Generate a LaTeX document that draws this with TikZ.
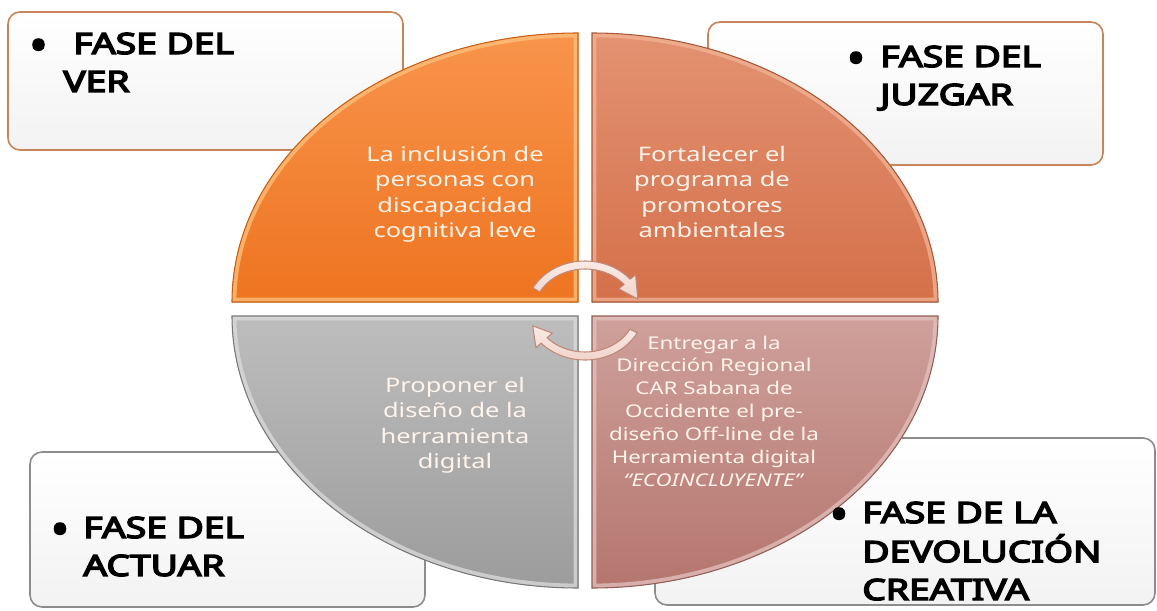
\documentclass[tikz,border=0pt]{standalone}
\usepackage{fontspec}
\setmainfont{Noto Sans}
\newfontfamily\hdrfont{Noto Sans}[FakeBold=4.5]
\usepackage{graphicx}
\definecolor{boxorange}{HTML}{C8845A}
\definecolor{boxgray}{HTML}{8C8C8C}
\definecolor{qtext}{HTML}{FFF4EC}
\definecolor{arrfill}{HTML}{F6DDD4}
\definecolor{arrline}{HTML}{C08878}
\definecolor{tlTop}{HTML}{F8944C}\definecolor{tlBot}{HTML}{EE7420}\definecolor{tlLight}{HTML}{FFC27E}\definecolor{tlDark}{HTML}{C85E10}
\definecolor{trTop}{HTML}{E39272}\definecolor{trBot}{HTML}{D4704A}\definecolor{trLight}{HTML}{F2B496}\definecolor{trDark}{HTML}{A85838}
\definecolor{blTop}{HTML}{BDBDBD}\definecolor{blBot}{HTML}{9C9C9C}\definecolor{blLight}{HTML}{DCDCDC}\definecolor{blDark}{HTML}{787878}
\definecolor{brTop}{HTML}{CFA09B}\definecolor{brBot}{HTML}{B4766E}\definecolor{brLight}{HTML}{E4C2BE}\definecolor{brDark}{HTML}{925E56}
\newcommand{\qpathTL}{(578,308) -- (232,308) arc[start angle=180,end angle=90,x radius=346,y radius=269] -- cycle}
\newcommand{\qpathTR}{(592,308) -- (592,577) arc[start angle=90,end angle=0,x radius=346,y radius=269] -- cycle}
\newcommand{\qpathBL}{(578,294) -- (578,22) arc[start angle=270,end angle=180,x radius=346,y radius=272] -- cycle}
\newcommand{\qpathBR}{(592,294) -- (938,294) arc[start angle=0,end angle=-90,x radius=346,y radius=272] -- cycle}
\newcommand{\drawquad}[5]{%
  \fill[top color=#2,bottom color=#3] #1;
  \begin{scope}\clip #1; \draw[#4, line width=5pt, opacity=.75] #1; \end{scope}
  \draw[#5, line width=0.6pt] #1;}
\newcommand{\hdrtext}[1]{\scalebox{1.27}[1]{\hdrfont\fontsize{16.7}{21.6}\selectfont\begin{tabular}[t]{@{}l@{}}#1\end{tabular}}}
\newcommand{\hdrbullet}{\scalebox{1.6}[1.5]{\hdrfont\fontsize{16.7}{21.6}\selectfont •}}
\newcommand{\quadtext}[3]{\scalebox{1.27}[1]{\fontsize{#1}{#2}\selectfont\begin{tabular}[t]{@{}c@{}}#3\end{tabular}}}
\begin{document}
\begin{tikzpicture}[x=0.02cm,y=0.02cm,
  phasebox/.style={rounded corners=0.24cm, line width=0.9pt, top color=white, bottom color=black!5},
  hdr/.style={anchor=base west, inner sep=0pt, text=black},
  bul/.style={anchor=center, inner sep=0pt, text=black},
  qlabel/.style={anchor=base, inner sep=0pt, text=qtext},
  arrowband/.style={top color=arrfill!60!white, bottom color=arrfill!90!arrline, draw=arrline, line width=0.6pt, line join=round}]
\fill[white] (0,0) rectangle (1157,610);
\useasboundingbox (0,0) rectangle (1157,610);
% phase boxes
\draw[phasebox, draw=boxorange] (8,460) rectangle (403,598);
\draw[phasebox, draw=boxorange] (708,445) rectangle (1103,588);
\draw[phasebox, draw=boxgray] (30,3) rectangle (425,158);
\draw[phasebox, draw=boxgray] (655,5) rectangle (1155,172);
% quadrants
\drawquad{\qpathTL}{tlTop}{tlBot}{tlLight}{tlDark}
\drawquad{\qpathTR}{trTop}{trBot}{trLight}{trDark}
\drawquad{\qpathBL}{blTop}{blBot}{blLight}{blDark}
\drawquad{\qpathBR}{brTop}{brBot}{brLight}{brDark}
% circular arrows
\begin{scope}[shift={(585,298)}]
\draw[arrowband] (152:59 and 51) arc[start angle=152,end angle=40,x radius=59,y radius=51]
  -- (40:66 and 58) -- (16:55 and 47) -- (40:44 and 36) -- (40:51 and 43)
  arc[start angle=40,end angle=152,x radius=51,y radius=43] -- cycle;
\end{scope}
\begin{scope}[shift={(585,301)}]
\draw[arrowband] (-28:59 and 51) arc[start angle=-28,end angle=-138,x radius=59,y radius=51]
  -- (-138:66 and 58) -- (-159:56 and 47) -- (-138:44 and 36) -- (-138:51 and 43)
  arc[start angle=-138,end angle=-28,x radius=51,y radius=43] -- cycle;
\end{scope}
% quadrant texts
\node[qlabel] (qtl) at (455,449) {\quadtext{11.4}{14.6}{La inclusión de\\personas con\\discapacidad\\cognitiva leve}};
\node[qlabel] (qtr) at (712,449) {\quadtext{11.4}{14.6}{Fortalecer el\\programa de\\promotores\\ambientales}};
\node[qlabel] (qbl) at (455,218) {\quadtext{11.4}{14.6}{Proponer el\\diseño de la\\herramienta\\digital}};
\node[qlabel] (qbr) at (714,261) {\quadtext{10}{13}{Entregar a la\\Dirección Regional\\CAR Sabana de\\Occidente el pre-\\diseño Off-line de la\\Herramienta digital\\\textit{“ECOINCLUYENTE”}}};
% headers
\node[bul] (btl) at (38.5,560) {\hdrbullet};
\node[hdr] (htl) at (63,556) {\hdrtext{\hspace{0.157cm}FASE DEL\\VER}};
\node[bul] (btr) at (856,547) {\hdrbullet};
\node[hdr] (htr) at (880,543) {\hdrtext{FASE DEL\\JUZGAR}};
\node[bul] (bbl) at (60,76) {\hdrbullet};
\node[hdr] (hbl) at (83,72) {\hdrtext{FASE DEL\\ACTUAR}};
\node[bul] (bbr) at (839,91) {\hdrbullet};
\node[hdr] (hbr) at (862,87) {\hdrtext{FASE DE LA\\DEVOLUCIÓN\\CREATIVA}};
\end{tikzpicture}
\end{document}
